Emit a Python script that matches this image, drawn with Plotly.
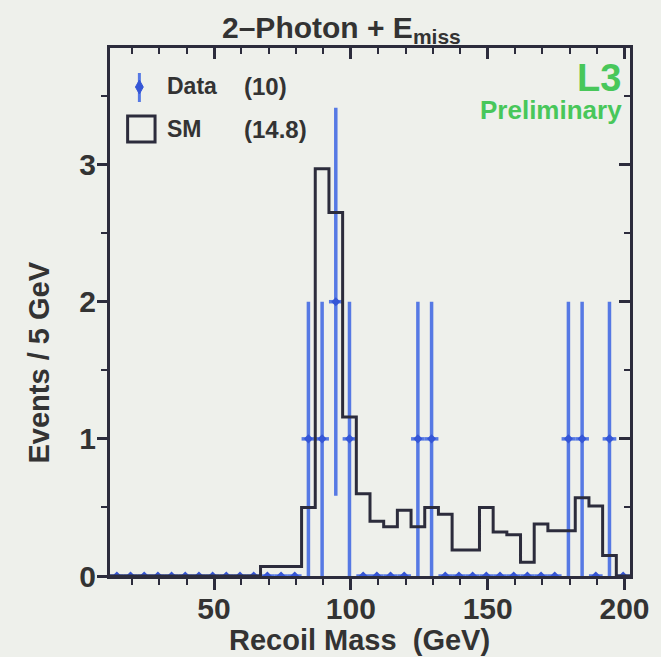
import numpy as np
import plotly.graph_objects as go

# ---- data ----
bin_low = 12.0          # GeV, left edge of first bin
bin_width = 5.0         # GeV per bin
sm_values = [0, 0, 0, 0, 0, 0, 0, 0, 0, 0, 0,
             0.07, 0.07, 0.07, 0.50, 2.97, 2.65, 1.16, 0.60, 0.40,
             0.36, 0.48, 0.36, 0.50, 0.45, 0.19, 0.19, 0.50, 0.32, 0.30,
             0.10, 0.38, 0.33, 0.33, 0.57, 0.51, 0.15, 0.0]
data_counts = [0, 0, 0, 0, 0, 0, 0, 0, 0, 0, 0,
               0, 0, 0, 1, 1, 2, 1, 0, 0,
               0, 0, 1, 1, 0, 0, 0, 0, 0, 0,
               0, 0, 0, 1, 1, 0, 1, 0]
x_ticks = [50, 100, 150, 200]
y_ticks = [0, 1, 2, 3]
legend_data_total = "(10)"
legend_sm_total = "(14.8)"

n_bins = len(sm_values)
edges = bin_low + bin_width * np.arange(n_bins + 1)
centers = edges[:-1] + bin_width / 2
counts = np.array(data_counts, dtype=float)
errs = np.sqrt(counts)

BLUE = "#5679e4"
DBLUE = "#3556d6"
DARK = "#2c2c3c"
GREEN = "#48c75a"
BG = "#eef0eb"
TXT = "#333333"
FONT = "Liberation Sans, Arial, Helvetica, sans-serif"

fig = go.Figure()

fig.add_trace(go.Scatter(
    x=centers, y=counts, mode="markers",
    marker=dict(symbol="diamond", size=7, color=DBLUE),
    error_y=dict(type="data", array=errs, color=BLUE, thickness=3.5, width=0),
    error_x=dict(type="constant", value=bin_width / 2, color=BLUE, thickness=3.5, width=0),
    showlegend=False, hoverinfo="skip"))

fig.add_trace(go.Scatter(
    x=edges, y=list(sm_values) + [sm_values[-1]], mode="lines",
    line=dict(shape="hv", color=DARK, width=3),
    showlegend=False, hoverinfo="skip"))

# invisible trace to activate mirrored inside-tick axes
fig.add_trace(go.Scatter(x=[edges[0]], y=[0], xaxis="x2", yaxis="y2",
                         mode="markers", marker=dict(opacity=0),
                         showlegend=False, hoverinfo="skip"))

xr = [edges[0], edges[-1]]
yr = [0, 3.85]
tickfont = dict(family=FONT, size=30, color=TXT, weight="bold")

fig.update_layout(
    width=661, height=657,
    margin=dict(l=110, r=20, t=48, b=81),
    paper_bgcolor=BG, plot_bgcolor=BG,
    xaxis=dict(range=xr, tickvals=x_ticks, ticks="outside", ticklen=11, tickwidth=2.5,
               tickcolor=DARK, minor=dict(dtick=10, ticks="outside", ticklen=6, tickwidth=2, tickcolor=DARK),
               showline=True, linecolor=DARK, linewidth=3, mirror=True, ticklabelstandoff=-7,
               showgrid=False, zeroline=False, tickfont=tickfont),
    yaxis=dict(range=yr, tickvals=y_ticks, ticks="outside", ticklen=10, tickwidth=2.5,
               tickcolor=DARK, minor=dict(dtick=0.5, ticks="outside", ticklen=6, tickwidth=2, tickcolor=DARK),
               showline=True, linecolor=DARK, linewidth=3, mirror=True, ticklabelstandoff=-5,
               showgrid=False, zeroline=False, tickfont=tickfont),
    xaxis2=dict(overlaying="x", side="top", range=xr, tickvals=x_ticks, ticks="inside",
                ticklen=11, tickwidth=2.5, tickcolor=DARK,
                minor=dict(dtick=10, ticks="inside", ticklen=6, tickwidth=2, tickcolor=DARK),
                showticklabels=False, showline=False, showgrid=False, zeroline=False),
    yaxis2=dict(overlaying="y", side="right", range=yr, tickvals=y_ticks, ticks="inside",
                ticklen=11, tickwidth=2.5, tickcolor=DARK,
                minor=dict(dtick=0.5, ticks="inside", ticklen=6, tickwidth=2, tickcolor=DARK),
                showticklabels=False, showline=False, showgrid=False, zeroline=False),
    showlegend=False,
)

def px(x):
    return (x - 110) / 531.0

def py(y):
    return (576 - y) / 528.0

txt = dict(family=FONT, color=TXT, weight="bold")
ann = [
    dict(x=px(346), y=py(30), text="2\u2013Photon + E<sub>miss</sub>",
         font=dict(size=30, **txt), xanchor="center", yanchor="middle"),
    dict(x=px(365), y=py(640), text="Recoil Mass  (GeV)",
         font=dict(size=29, **txt), xanchor="center", yanchor="middle"),
    dict(x=px(38), y=py(362), text="Events / 5 GeV", textangle=-90,
         font=dict(size=29, **txt), xanchor="center", yanchor="middle"),
    dict(x=px(166), y=py(86), text="Data", font=dict(size=23, **txt), xanchor="left", yanchor="middle"),
    dict(x=px(245), y=py(86), text=legend_data_total, font=dict(size=24, **txt), xanchor="left", yanchor="middle"),
    dict(x=px(166), y=py(129), text="SM", font=dict(size=23, **txt), xanchor="left", yanchor="middle"),
    dict(x=px(245), y=py(129), text=legend_sm_total, font=dict(size=24, **txt), xanchor="left", yanchor="middle"),
    dict(x=px(634), y=py(78), text="L3", font=dict(size=38, family=FONT, color=GREEN, weight="bold"),
         xanchor="right", yanchor="middle"),
    dict(x=px(635), y=py(110), text="Preliminary", font=dict(size=26, family=FONT, color=GREEN, weight="bold"),
         xanchor="right", yanchor="middle"),
]
for a in ann:
    a.update(xref="paper", yref="paper", showarrow=False)
fig.update_layout(annotations=ann)

cx, cy = px(140), py(87)
shapes = [
    dict(type="line", xref="paper", yref="paper", x0=cx, x1=cx, y0=py(73), y1=py(102),
         line=dict(color=BLUE, width=3)),
    dict(type="path", xref="paper", yref="paper",
         path=f"M {cx} {py(80)} L {px(144)} {cy} L {cx} {py(94)} L {px(136)} {cy} Z",
         fillcolor=DBLUE, line=dict(color=DBLUE, width=1)),
    dict(type="rect", xref="paper", yref="paper", x0=px(128), x1=px(156), y0=py(142), y1=py(116),
         line=dict(color=DARK, width=3)),
]
fig.update_layout(shapes=shapes)

fig.write_html("out.html")
